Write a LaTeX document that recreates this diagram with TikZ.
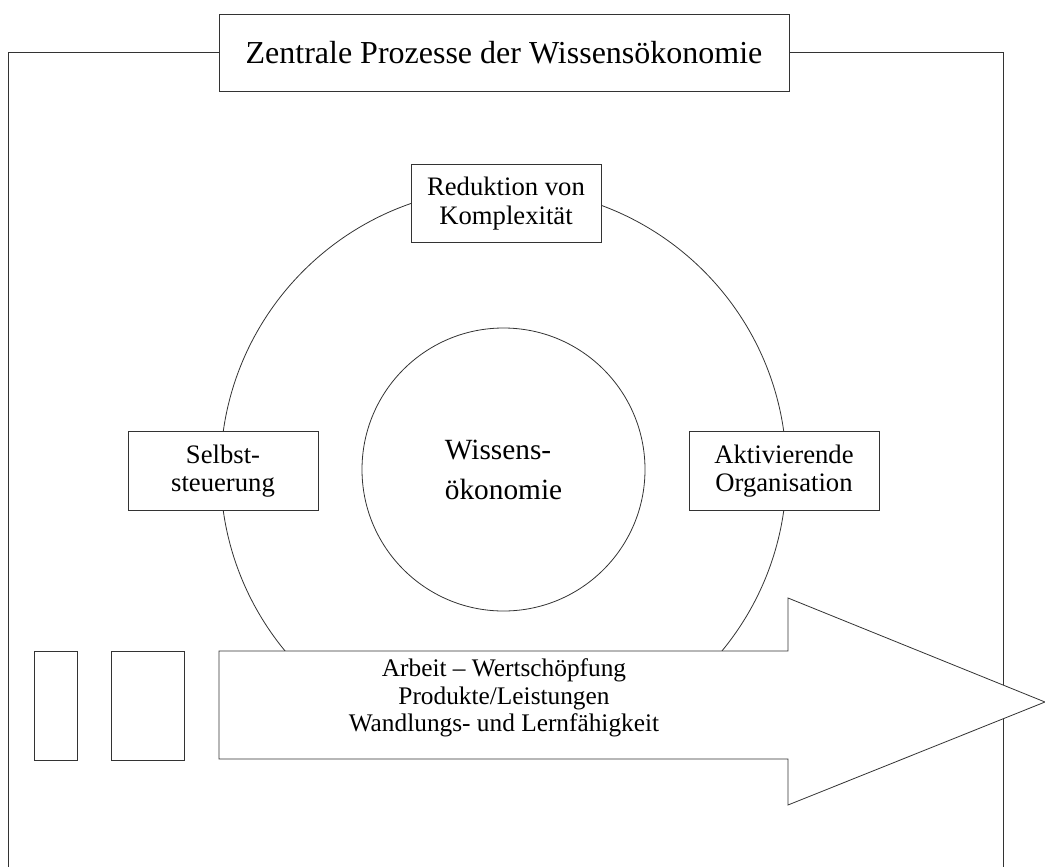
\documentclass[tikz,border=0pt]{standalone}
\usepackage{fontspec}
\setmainfont{Liberation Serif}
\begin{document}
\begin{tikzpicture}[x=0.75pt,y=-0.75pt,
  ln/.style={draw=black!80, line width=0.6pt},
  box/.style={ln, fill=white, rectangle, inner sep=0pt, align=center,
    minimum width=142.5pt, minimum height=59pt,
    font=\fontsize{20}{21.5}\selectfont},
  plain/.style={ln, fill=white, rectangle, inner sep=0pt}
]
\useasboundingbox (0,0) rectangle (1045,867);
% frame
\node[ln, fill=white, rectangle, inner sep=0pt, minimum width=427.5pt, minimum height=57.75pt,
  font=\fontsize{24}{26}\selectfont] (title) at (504,52.5) {Zentrale Prozesse der Wissensökonomie};
\coordinate (ftl) at (8,52.5);
\coordinate (fbl) at (8,867);
\coordinate (ftr) at (1003,52.5);
\coordinate (fbr) at (1003,867);
\draw[ln] (title.west) -- (ftl) -- (fbl);
\draw[ln] (title.east) -- (ftr) -- (fbr);
% circles
\node[ln, circle, inner sep=0pt, minimum size=424.5pt] (outer) at (503.5,471) {};
\node[ln, circle, inner sep=0pt, minimum size=212.25pt, align=left,
  font=\fontsize{22}{30}\selectfont] (inner) at (503.5,469.5) {Wissens-\\ökonomie};
% boxes
\node[box] (red) at (506,203.5) {Reduktion von\\Komplexität};
\node[box] (selbst) at (223,471) {Selbst-\\steuerung};
\node[box] (akt) at (784,471) {Aktivierende\\Organisation};
% small rects
\node[plain, minimum width=32.25pt, minimum height=81.75pt] (r1) at (55.5,705.5) {};
\node[plain, minimum width=54.75pt, minimum height=81.75pt] (r2) at (147.5,705.5) {};
% arrow
\draw[ln, fill=white] (219,651) -- (788,651) -- (788,598) -- (1045,702) -- (788,805)
  -- (788,759) -- (219,759) -- cycle;
\node[align=center, inner sep=0pt, font=\fontsize{19}{20.5}\selectfont] (arrtext) at (504,698)
  {Arbeit -- Wertschöpfung\\Produkte/Leistungen\\Wandlungs- und Lernfähigkeit};
\end{tikzpicture}
\end{document}
